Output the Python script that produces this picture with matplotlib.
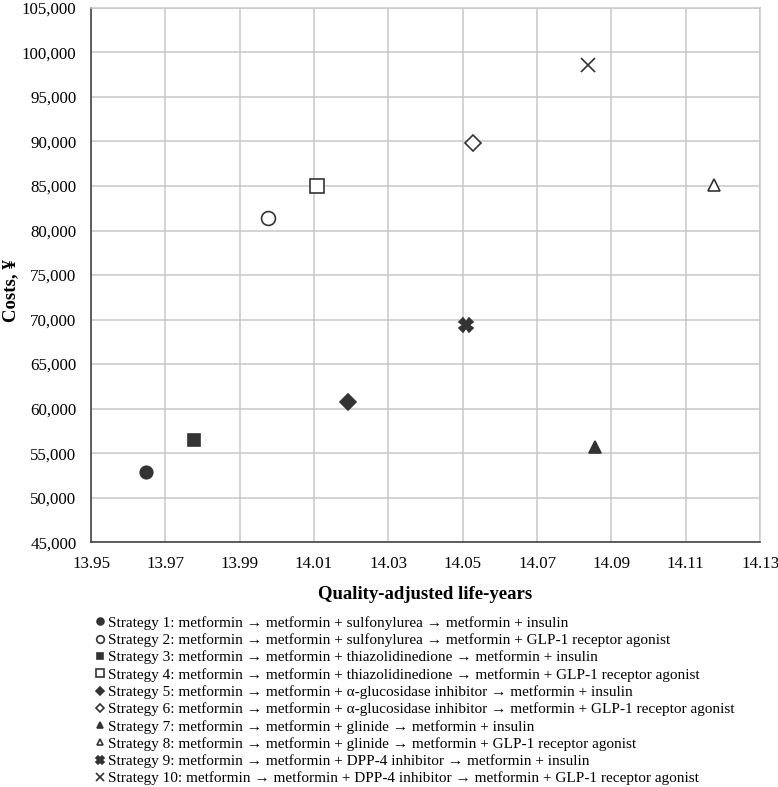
import matplotlib
matplotlib.use('Agg')
from matplotlib import pyplot as plt
from matplotlib.ticker import FuncFormatter

plt.rcParams['font.family'] = ['Liberation Serif', 'DejaVu Serif']

# data
qalys = [13.9648, 13.9975, 13.9777, 14.0107, 14.0192, 14.0527, 14.0856, 14.1177, 14.0508, 14.0838]
costs = [52900, 81400, 56500, 85000, 60800, 89800, 55700, 85100, 69400, 98600]
labels = [
    'Strategy 1: metformin \u2192 metformin + sulfonylurea \u2192 metformin + insulin',
    'Strategy 2: metformin \u2192 metformin + sulfonylurea \u2192 metformin + GLP-1 receptor agonist',
    'Strategy 3: metformin \u2192 metformin + thiazolidinedione \u2192 metformin + insulin',
    'Strategy 4: metformin \u2192 metformin + thiazolidinedione \u2192 metformin + GLP-1 receptor agonist',
    'Strategy 5: metformin \u2192 metformin + \u03b1-glucosidase inhibitor \u2192 metformin + insulin',
    'Strategy 6: metformin \u2192 metformin + \u03b1-glucosidase inhibitor \u2192 metformin + GLP-1 receptor agonist',
    'Strategy 7: metformin \u2192 metformin + glinide \u2192 metformin + insulin',
    'Strategy 8: metformin \u2192 metformin + glinide \u2192 metformin + GLP-1 receptor agonist',
    'Strategy 9: metformin \u2192 metformin + DPP-4 inhibitor \u2192 metformin + insulin',
    'Strategy 10: metformin \u2192 metformin + DPP-4 inhibitor \u2192 metformin + GLP-1 receptor agonist',
]
markers = ['o', 'o', 's', 's', 'D', 'D', '^', '^', 'X', 'x']
filled = [True, False, True, False, True, False, True, False, True, True]
sizes = [9, 10, 9, 10, 8, 8, 9, 9, 10, 10]

xticks = [13.95, 13.97, 13.99, 14.01, 14.03, 14.05, 14.07, 14.09, 14.11, 14.13]
yticks = [45000, 50000, 55000, 60000, 65000, 70000, 75000, 80000, 85000, 90000, 95000, 100000, 105000]

dark = '#333333'

fig = plt.figure(figsize=(7.78, 7.87), dpi=100)
ax = fig.add_axes([0.117, 0.311, 0.860, 0.679])

for i in range(len(qalys)):
    face = dark if filled[i] else 'white'
    ax.plot(qalys[i], costs[i], linestyle='none', marker=markers[i], markersize=sizes[i],
            markerfacecolor=face, markeredgecolor=dark, markeredgewidth=1.2,
            label=labels[i], zorder=3)

ax.set_xlim(xticks[0], xticks[-1])
ax.set_ylim(yticks[0], yticks[-1])
ax.set_xticks(xticks)
ax.set_yticks(yticks)
ax.xaxis.set_major_formatter(FuncFormatter(lambda v, p: '%.2f' % v))
ax.yaxis.set_major_formatter(FuncFormatter(lambda v, p: '{:,.0f}'.format(v)))
ax.grid(True, color='#c8c8c8', linewidth=1.1)
ax.set_axisbelow(True)
for s in ['top', 'right']:
    ax.spines[s].set_color('#c8c8c8')
    ax.spines[s].set_linewidth(1.1)
for s in ['left', 'bottom']:
    ax.spines[s].set_color('#444444')
    ax.spines[s].set_linewidth(1.2)
ax.tick_params(axis='both', length=0, labelsize=12.2, colors='black')
ax.tick_params(axis='x', pad=10)
ax.tick_params(axis='y', pad=10.5)

ax.set_xlabel('Quality-adjusted life-years', fontsize=13.5, fontweight='bold')
ax.xaxis.set_label_coords(0.5, -0.082)
ax.set_ylabel('Costs, \u00a5', fontsize=13.5, fontweight='bold')
ax.yaxis.set_label_coords(-0.108, 0.47)

fig.legend(loc='upper left', bbox_to_anchor=(0.113, 0.227), frameon=False,
           fontsize=11, markerscale=0.55, handlelength=0.6, handletextpad=0.2,
           labelspacing=0.23, borderpad=0)

plt.savefig('out.png', dpi=100)
